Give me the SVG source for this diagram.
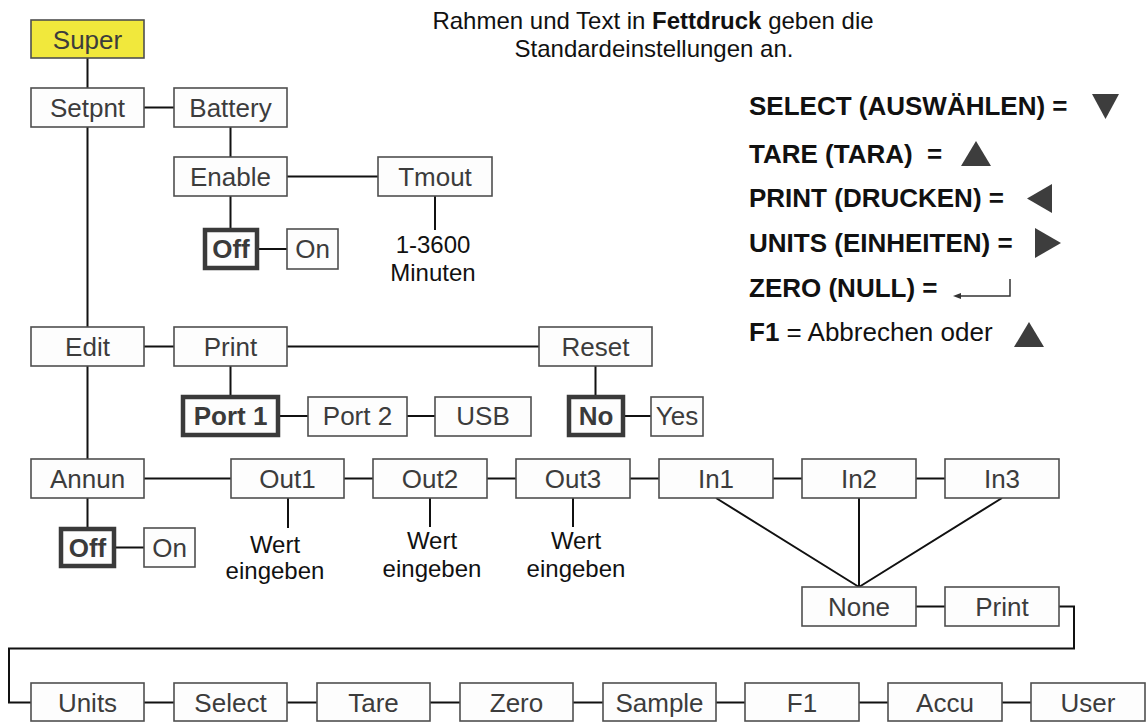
<svg xmlns="http://www.w3.org/2000/svg" width="1146" height="722" viewBox="0 0 1146 722">
<style>
.b{fill:#fdfdfd;stroke:#4f4f4f;stroke-width:1.6}
.bt{fill:#fdfdfd;stroke:#3a3a3a;stroke-width:4.5}
.t{font-family:"Liberation Sans",Arial,sans-serif;font-size:26px;fill:#3c3c3c;text-anchor:middle}
.tb{font-family:"Liberation Sans",Arial,sans-serif;font-size:26px;font-weight:bold;fill:#3a3a3a;text-anchor:middle}
.n{font-family:"Liberation Sans",Arial,sans-serif;font-size:24px;fill:#111;text-anchor:middle}
.h{font-family:"Liberation Sans",Arial,sans-serif;font-size:24px;fill:#111;text-anchor:middle}
.lg{font-family:"Liberation Sans",Arial,sans-serif;font-size:26px;fill:#111;font-weight:bold}
.c{fill:none;stroke:#111;stroke-width:2}
.tri{fill:#3d3d3d}
</style>
<rect width="1146" height="722" fill="#ffffff"/>
<g id="connectors" class="c">
<path d="M87.5,58V88M87.5,127V327M87.5,366V459M87.5,498V527"/>
<path d="M144,107.5H174M230.5,127V157M287,176.5H378M230.5,196V228M259,249H287M435,196V230"/>
<path d="M144,346.5H174M287,346.5H539M230.5,366V395M280,416H308M407,416H435M595.5,366V395M625,416H651"/>
<path d="M144,478.5H231M344,478.5H373M487,478.5H516M630,478.5H659M773,478.5H802M916,478.5H945M116,547.5H144"/>
<path d="M288,498V528M430,498V527M573,498V527"/>
<path d="M716,498L859,587M859,498V587M1002,498L859,587"/>
<path d="M916,606.5H945M1059,606.5H1074V648.5H9V702.5H31"/>
<path d="M144,702.5H174M287,702.5H317M430,702.5H460M573,702.5H603M716,702.5H745M859,702.5H888M1002,702.5H1031"/>
</g>
<g id="header">
<text class="h" x="653" y="29">Rahmen und Text in <tspan font-weight="bold">Fettdruck</tspan> geben die</text>
<text class="h" x="654" y="57">Standardeinstellungen an.</text>
</g>
<g id="legend">
<text class="lg" x="749" y="115">SELECT (AUSWÄHLEN) =</text>
<polygon class="tri" points="1092,94 1119,94 1105.5,119"/>
<text class="lg" x="749" y="163" xml:space="preserve">TARE (TARA)  =</text>
<polygon class="tri" points="961,166 991,166 976,141"/>
<text class="lg" x="749" y="207">PRINT (DRUCKEN) =</text>
<polygon class="tri" points="1052,184 1052,213 1027,198.5"/>
<text class="lg" x="749" y="252">UNITS (EINHEITEN) =</text>
<polygon class="tri" points="1035,228 1035,258 1061,243"/>
<text class="lg" x="749" y="297">ZERO (NULL) =</text>
<path d="M1010,279V296H959" fill="none" stroke="#333" stroke-width="1.5"/>
<polygon points="953,296 961,293 961,299" fill="#333"/>
<text class="lg" x="749" y="341">F1 <tspan font-weight="normal">= Abbrechen oder</tspan></text>
<polygon class="tri" points="1014,347 1044,347 1029,322"/>
</g>
<g id="super"><rect x="31" y="20" width="113" height="38" fill="#f1e83c" stroke="#4f4f4f" stroke-width="1.6"/><text class="t" x="87.5" y="48.5">Super</text></g>
<g id="setpnt"><rect class="b" x="31" y="88" width="113" height="39"/><text class="t" x="87.5" y="117">Setpnt</text></g>
<g id="battery"><rect class="b" x="174" y="88" width="113" height="39"/><text class="t" x="230.5" y="117">Battery</text></g>
<g id="enable"><rect class="b" x="174" y="157" width="113" height="39"/><text class="t" x="230.5" y="186">Enable</text></g>
<g id="tmout"><rect class="b" x="378" y="157" width="114" height="39"/><text class="t" x="435" y="186">Tmout</text></g>
<g id="tmout-range"><text class="n" x="433" y="253">1-3600</text><text class="n" x="433" y="281">Minuten</text></g>
<g id="battery-off"><rect class="bt" x="205" y="230" width="52" height="38"/><text class="tb" x="231" y="258">Off</text></g>
<g id="battery-on"><rect class="b" x="287" y="229" width="51" height="40"/><text class="t" x="312.5" y="258">On</text></g>
<g id="edit"><rect class="b" x="31" y="327" width="113" height="39"/><text class="t" x="87.5" y="356">Edit</text></g>
<g id="print"><rect class="b" x="174" y="327" width="113" height="39"/><text class="t" x="230.5" y="356">Print</text></g>
<g id="reset"><rect class="b" x="539" y="327" width="113" height="39"/><text class="t" x="595.5" y="356">Reset</text></g>
<g id="port1"><rect class="bt" x="183" y="397" width="95" height="38"/><text class="tb" x="230.5" y="425">Port 1</text></g>
<g id="port2"><rect class="b" x="308" y="397" width="99" height="39"/><text class="t" x="357.5" y="425">Port 2</text></g>
<g id="usb"><rect class="b" x="435" y="397" width="96" height="39"/><text class="t" x="483" y="425">USB</text></g>
<g id="reset-no"><rect class="bt" x="569" y="397" width="54" height="38"/><text class="tb" x="596" y="425">No</text></g>
<g id="reset-yes"><rect class="b" x="651" y="397" width="52" height="39"/><text class="t" x="677" y="425">Yes</text></g>
<g id="annun"><rect class="b" x="31" y="459" width="113" height="39"/><text class="t" x="87.5" y="488">Annun</text></g>
<g id="out1"><rect class="b" x="231" y="459" width="113" height="39"/><text class="t" x="287.5" y="488">Out1</text></g>
<g id="out2"><rect class="b" x="373" y="459" width="114" height="39"/><text class="t" x="430" y="488">Out2</text></g>
<g id="out3"><rect class="b" x="516" y="459" width="114" height="39"/><text class="t" x="573" y="488">Out3</text></g>
<g id="in1"><rect class="b" x="659" y="459" width="114" height="39"/><text class="t" x="716" y="488">In1</text></g>
<g id="in2"><rect class="b" x="802" y="459" width="114" height="39"/><text class="t" x="859" y="488">In2</text></g>
<g id="in3"><rect class="b" x="945" y="459" width="114" height="39"/><text class="t" x="1002" y="488">In3</text></g>
<g id="annun-off"><rect class="bt" x="61" y="529" width="53" height="37"/><text class="tb" x="87.5" y="557">Off</text></g>
<g id="annun-on"><rect class="b" x="144" y="528" width="51" height="39"/><text class="t" x="169.5" y="557">On</text></g>
<g id="out1-value"><text class="n" x="275" y="553">Wert</text><text class="n" x="275" y="579">eingeben</text></g>
<g id="out2-value"><text class="n" x="432" y="549">Wert</text><text class="n" x="432" y="577">eingeben</text></g>
<g id="out3-value"><text class="n" x="576" y="549">Wert</text><text class="n" x="576" y="577">eingeben</text></g>
<g id="none"><rect class="b" x="802" y="587" width="114" height="39"/><text class="t" x="859" y="616">None</text></g>
<g id="in-print"><rect class="b" x="945" y="587" width="114" height="39"/><text class="t" x="1002" y="616">Print</text></g>
<g id="units"><rect class="b" x="31" y="683" width="113" height="38"/><text class="t" x="87.5" y="712">Units</text></g>
<g id="select"><rect class="b" x="174" y="683" width="113" height="38"/><text class="t" x="230.5" y="712">Select</text></g>
<g id="tare"><rect class="b" x="317" y="683" width="113" height="38"/><text class="t" x="373.5" y="712">Tare</text></g>
<g id="zero"><rect class="b" x="460" y="683" width="113" height="38"/><text class="t" x="516.5" y="712">Zero</text></g>
<g id="sample"><rect class="b" x="603" y="683" width="113" height="38"/><text class="t" x="659.5" y="712">Sample</text></g>
<g id="f1"><rect class="b" x="745" y="683" width="114" height="38"/><text class="t" x="802" y="712">F1</text></g>
<g id="accu"><rect class="b" x="888" y="683" width="114" height="38"/><text class="t" x="945" y="712">Accu</text></g>
<g id="user"><rect class="b" x="1031" y="683" width="114" height="38"/><text class="t" x="1088" y="712">User</text></g>
</svg>
